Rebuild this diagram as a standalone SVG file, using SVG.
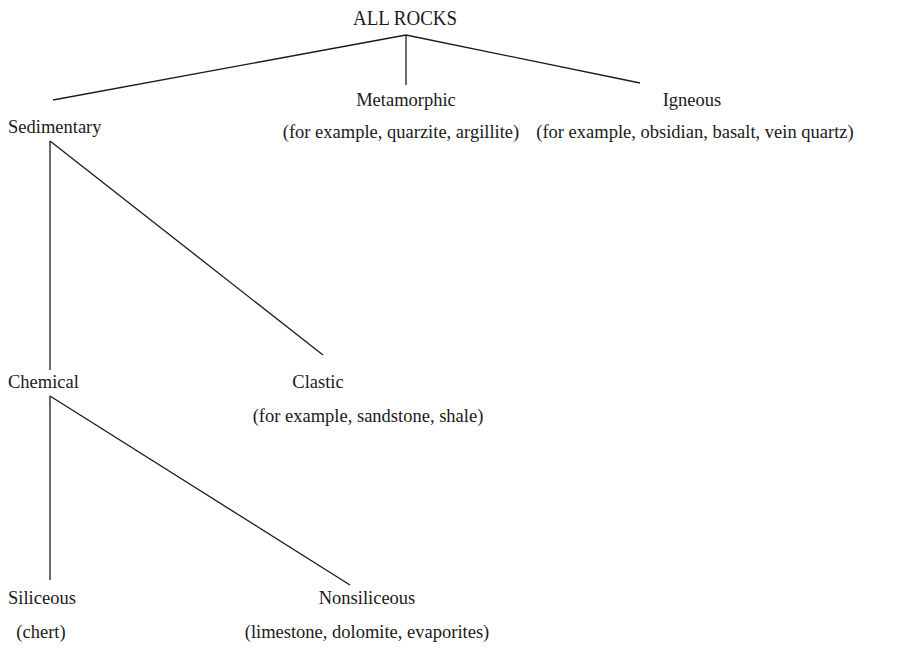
<svg xmlns="http://www.w3.org/2000/svg" width="914" height="649" viewBox="0 0 914 649">
<style>
text{font-family:"Liberation Serif",serif;fill:#1a1a1a;font-size:18.5px}
.t{font-size:21px}
.c{text-anchor:middle}
#edges line{stroke:#1a1a1a;stroke-width:1.3}
</style>
<rect width="914" height="649" fill="#fff"/>
<g id="edges">
<line x1="406" y1="35" x2="53" y2="100"/>
<line x1="406" y1="35" x2="406" y2="85"/>
<line x1="406" y1="35" x2="640" y2="83"/>
<line x1="50" y1="141" x2="50" y2="370"/>
<line x1="50" y1="141" x2="323" y2="355"/>
<line x1="50" y1="396" x2="50" y2="580"/>
<line x1="50" y1="396" x2="350" y2="585"/>
</g>
<g id="all-rocks"><text class="t c" x="405" y="25" textLength="104" lengthAdjust="spacingAndGlyphs">ALL ROCKS</text></g>
<g id="sedimentary"><text x="8" y="133">Sedimentary</text></g>
<g id="metamorphic"><text class="c" x="406" y="106">Metamorphic</text><text class="c" x="401" y="138">(for example, quarzite, argillite)</text></g>
<g id="igneous"><text class="c" x="692" y="106">Igneous</text><text class="c" x="695" y="138">(for example, obsidian, basalt, vein quartz)</text></g>
<g id="chemical"><text x="8" y="388">Chemical</text></g>
<g id="clastic"><text class="c" x="318" y="388">Clastic</text><text class="c" x="368" y="422">(for example, sandstone, shale)</text></g>
<g id="siliceous"><text x="8" y="604">Siliceous</text><text class="c" x="41" y="638">(chert)</text></g>
<g id="nonsiliceous"><text class="c" x="367" y="604">Nonsiliceous</text><text class="c" x="367" y="638">(limestone, dolomite, evaporites)</text></g>
</svg>
